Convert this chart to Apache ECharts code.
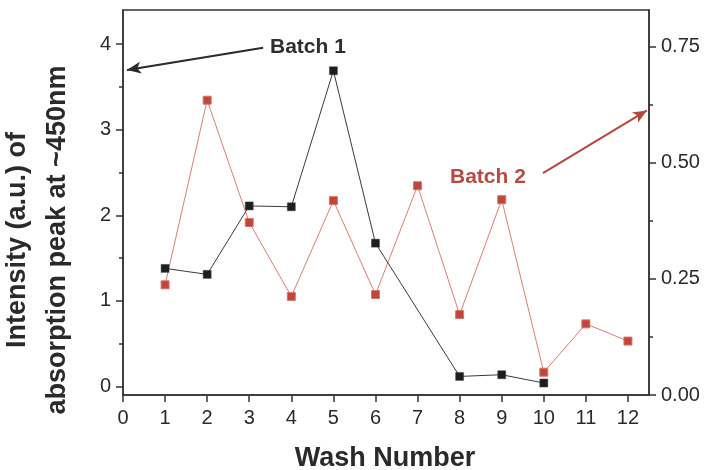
<!DOCTYPE html>
<html>
<head>
<meta charset="utf-8">
<script src="https://cdn.jsdelivr.net/npm/echarts@6/dist/echarts.min.js"></script>
<style>
  html, body { margin: 0; padding: 0; background: #ffffff; }
  #chart { width: 709px; height: 470px; }
</style>
</head>
<body>
<div id="chart"></div>
<script>
// Batch 1 (left axis) and Batch 2 (right axis) absorbance after each wash
var batch1Wash = [1, 2, 3, 4, 5, 6, 8, 9, 10];
var batch1Intensity = [1.38, 1.31, 2.11, 2.10, 3.69, 1.675, 0.117, 0.137, 0.04];

var batch2Wash = [1, 2, 3, 4, 5, 6, 7, 8, 9, 10, 11, 12];
var batch2Intensity = [0.237, 0.634, 0.371, 0.212, 0.418, 0.216, 0.450, 0.173, 0.420, 0.049, 0.153, 0.116];

var xTicks = [0, 1, 2, 3, 4, 5, 6, 7, 8, 9, 10, 11, 12];
var leftTicks = [0, 1, 2, 3, 4];
var leftMinorTicks = [0.5, 1.5, 2.5, 3.5];
var rightTicks = [0, 0.25, 0.5, 0.75];
var rightMinorTicks = [0.125, 0.375, 0.625];

// annotation arrows: [tail, head] in each batch's data units
var batch1Arrow = [[3.33, 3.96], [0.095, 3.70]];
var batch2Arrow = [[9.98, 0.477], [12.45, 0.612]];

var FONT = '"Liberation Sans", Arial, sans-serif';
var AXIS_COLOR = '#333333';
var RED = '#c0453a';

function pairs(xs, ys) {
  return xs.map(function (x, i) { return [x, ys[i]]; });
}

var chart = echarts.init(document.getElementById('chart'), null, { renderer: 'canvas' });

var lineStyleAxis = { color: AXIS_COLOR, width: 1.5 };

chart.setOption({
  animation: false,
  backgroundColor: '#ffffff',
  grid: {
    left: 123, right: 60, top: 10, bottom: 75,
    show: true, borderColor: AXIS_COLOR, borderWidth: 1.5, backgroundColor: 'transparent'
  },
  xAxis: {
    type: 'value',
    min: 0, max: 12.5,
    splitLine: { show: false },
    axisLine: { show: true, onZero: false, lineStyle: lineStyleAxis },
    axisTick: { show: true, inside: false, length: 7, customValues: xTicks, lineStyle: lineStyleAxis },
    axisLabel: {
      customValues: xTicks, margin: 13,
      color: '#2a2a2a', fontFamily: FONT, fontSize: 20
    }
  },
  yAxis: [
    {
      type: 'value', position: 'left',
      min: -0.1, max: 4.4,
      splitLine: { show: false },
      axisLine: { show: true, onZero: false, lineStyle: lineStyleAxis },
      axisTick: { show: true, inside: false, length: 7, customValues: leftTicks, lineStyle: lineStyleAxis },
      axisLabel: {
        customValues: leftTicks, margin: 12,
        color: '#2a2a2a', fontFamily: FONT, fontSize: 20
      }
    },
    {
      type: 'value', position: 'right',
      min: 0, max: 0.828,
      splitLine: { show: false },
      axisLine: { show: true, onZero: false, lineStyle: lineStyleAxis },
      axisTick: { show: true, inside: false, length: 7, customValues: rightTicks, lineStyle: lineStyleAxis },
      axisLabel: {
        customValues: rightTicks, margin: 12,
        color: '#2a2a2a', fontFamily: FONT, fontSize: 20,
        formatter: function (v) { return v.toFixed(2); }
      }
    },
    {
      // minor ticks of the left scale
      type: 'value', position: 'left',
      min: -0.1, max: 4.4,
      splitLine: { show: false },
      axisLine: { show: false },
      axisTick: { show: true, inside: false, length: 4, customValues: leftMinorTicks, lineStyle: lineStyleAxis },
      axisLabel: { show: false }
    },
    {
      // minor ticks of the right scale
      type: 'value', position: 'right',
      min: 0, max: 0.828,
      splitLine: { show: false },
      axisLine: { show: false },
      axisTick: { show: true, inside: false, length: 4, customValues: rightMinorTicks, lineStyle: lineStyleAxis },
      axisLabel: { show: false }
    }
  ],
  series: [
    {
      name: 'Batch 2',
      type: 'line',
      yAxisIndex: 1,
      data: pairs(batch2Wash, batch2Intensity),
      symbol: 'rect',
      symbolSize: 8,
      lineStyle: { color: '#d9806f', width: 1 },
      itemStyle: { color: RED, borderColor: '#d7766a', borderWidth: 1 },
      emphasis: { disabled: true },
      markLine: {
        silent: true,
        symbol: ['none', 'arrow'],
        symbolSize: [9, 14],
        label: { show: false },
        lineStyle: { color: '#b9463d', width: 2, type: 'solid' },
        data: [[{ coord: batch2Arrow[0] }, { coord: batch2Arrow[1] }]]
      },
      z: 2
    },
    {
      name: 'Batch 1',
      type: 'line',
      yAxisIndex: 0,
      data: pairs(batch1Wash, batch1Intensity),
      symbol: 'rect',
      symbolSize: 8,
      lineStyle: { color: '#3a3a3a', width: 1 },
      itemStyle: { color: '#1e1e1e', borderColor: '#444', borderWidth: 0.5 },
      emphasis: { disabled: true },
      markLine: {
        silent: true,
        symbol: ['none', 'arrow'],
        symbolSize: [9, 14],
        label: { show: false },
        lineStyle: { color: '#2a2a2a', width: 2, type: 'solid' },
        data: [[{ coord: batch1Arrow[0] }, { coord: batch1Arrow[1] }]]
      },
      z: 3
    }
  ],
  graphic: [
    {
      type: 'text', x: 270, y: 47.5,
      style: {
        text: 'Batch 1', fill: '#2e2e2e',
        font: 'bold 21px ' + FONT, textAlign: 'left', textVerticalAlign: 'middle'
      }
    },
    {
      type: 'text', x: 450, y: 177.5,
      style: {
        text: 'Batch 2', fill: '#bb4a40',
        font: 'bold 21px ' + FONT, textAlign: 'left', textVerticalAlign: 'middle'
      }
    },
    {
      type: 'text', x: 385, y: 458.5,
      style: {
        text: 'Wash Number', fill: '#2a2a2a',
        font: 'bold 27px ' + FONT, textAlign: 'center', textVerticalAlign: 'middle'
      }
    },
    {
      type: 'text', x: 18, y: 240, rotation: Math.PI / 2,
      style: {
        text: 'Intensity (a.u.) of', fill: '#2a2a2a',
        font: 'bold 27px ' + FONT, textAlign: 'center', textVerticalAlign: 'middle'
      }
    },
    {
      type: 'text', x: 57.5, y: 240, rotation: Math.PI / 2,
      style: {
        text: 'absorption peak at ~450nm', fill: '#2a2a2a',
        font: 'bold 27px ' + FONT, textAlign: 'center', textVerticalAlign: 'middle'
      }
    }
  ]
});
</script>
</body>
</html>
